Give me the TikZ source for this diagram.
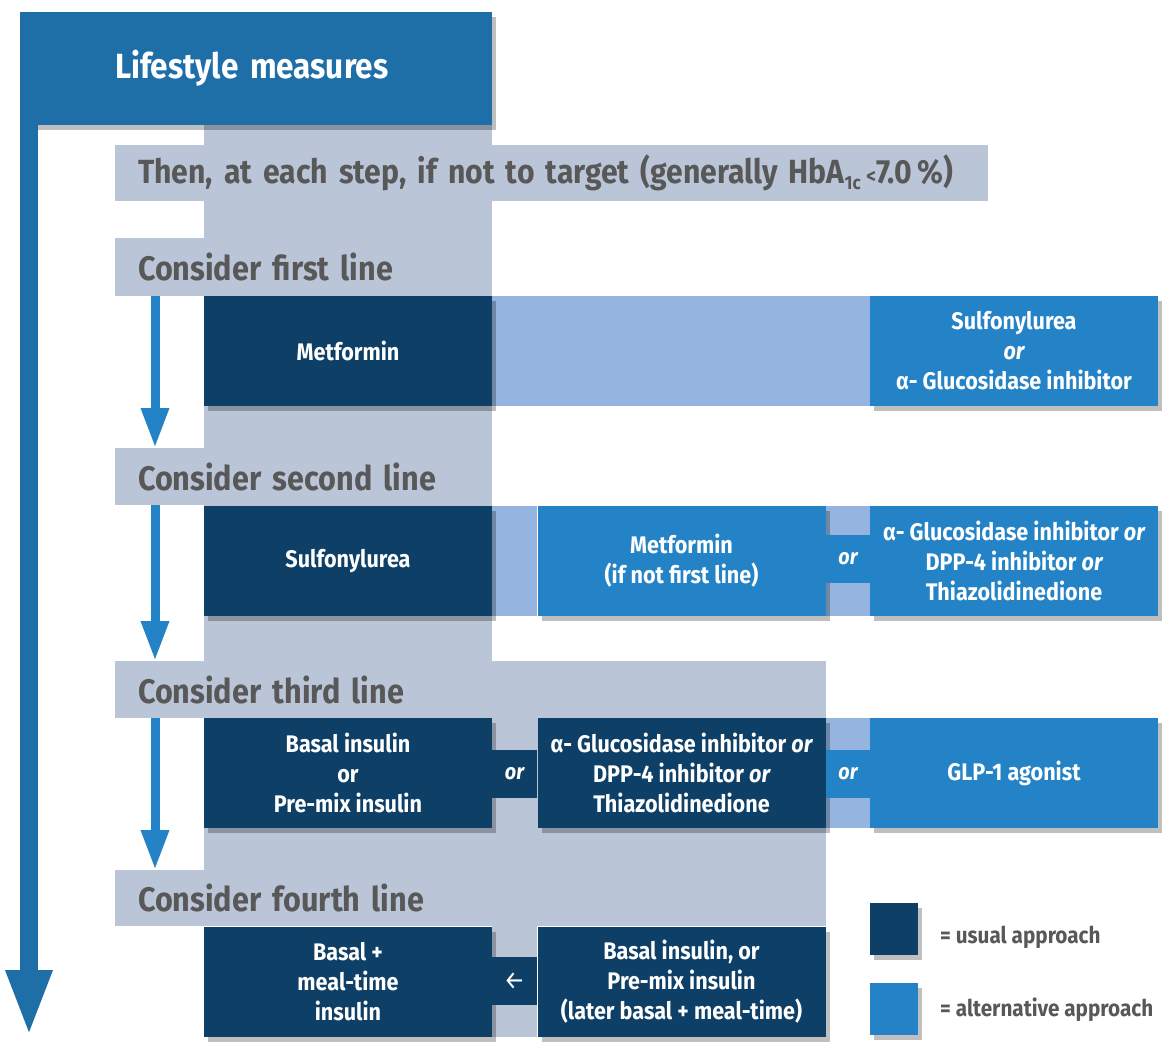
\documentclass[tikz,border=0pt]{standalone}
\usepackage{fontspec}
\setmainfont{Fira Sans}[FakeStretch=0.90]
\usetikzlibrary{arrows.meta,shadows}
\definecolor{topblue}{HTML}{1E6EA8}
\definecolor{band}{HTML}{BAC5D8}
\definecolor{usual}{HTML}{0E3F66}
\definecolor{alt}{HTML}{2383C6}
\definecolor{lightband}{HTML}{95B5E0}
\definecolor{graytext}{HTML}{585858}
\begin{document}
\begin{tikzpicture}[x=1pt,y=-1pt,
  shade/.style={drop shadow={shadow xshift=4pt,shadow yshift=-5pt,opacity=0.25,fill=black}},
  box/.style={inner sep=0pt,outer sep=0pt,align=center,text=white,
    font=\fontsize{24}{30}\selectfont\bfseries,minimum height=110pt,minimum width=288pt,shade},
  usualbox/.style={box,fill=usual},
  altbox/.style={box,fill=alt},
  ortab/.style={inner sep=0pt,outer sep=0pt,minimum width=45pt,minimum height=48pt,
    text=white,font=\fontsize{22}{26}\selectfont\bfseries\itshape},
  header/.style={anchor=north west,fill=band,inner xsep=23pt,inner ysep=0pt,outer sep=0pt,
    align=left,text=graytext,font=\fontsize{34}{40}\selectfont\bfseries},
  legtext/.style={anchor=west,inner sep=0pt,text=graytext,font=\fontsize{23}{26}\selectfont\bfseries},
  smallarr/.style={draw=alt,line width=9pt,-{Triangle[width=26pt,length=40pt]}},
  bigarr/.style={draw=topblue,line width=18pt,-{Triangle[width=42pt,length=67pt]}}
]
\useasboundingbox[fill=white] (0,0) rectangle (1167,1051);

% background bands
\fill[band] (204,125) rectangle (492,661);
\fill[band] (204,718) rectangle (826,870);
\fill[band] (492,926) rectangle (537,1037);

% lifestyle box
\node[anchor=north west,fill=topblue,minimum width=472pt,minimum height=113pt,inner sep=0pt,outer sep=0pt,
  text width=472pt,align=left,text=white,font=\fontsize{35}{40}\selectfont\bfseries,shade] (life) at (20,12)
  {\hspace*{95pt}Lifestyle measures};

% headers
\node[header,minimum height=56pt,text width=827pt,font=\fontsize{33.5}{38}\selectfont\bfseries] (then) at (115,145)
  {\mbox{Then, at each step, if not to target (generally HbA\raisebox{-6pt}{\fontsize{19}{19}\selectfont 1c}\,{\fontsize{21}{21}\selectfont<}7.0\,\%)}};
\node[header,minimum height=58pt,text width=331pt] (c1) at (115,238) {Consider first line};
\node[header,minimum height=57pt,text width=331pt] (c2) at (115,448) {Consider second line};
\node[header,minimum height=57pt,text width=665pt] (c3) at (115,661) {Consider third line};
\node[header,minimum height=56pt,text width=665pt] (c4) at (115,870) {Consider fourth line};

% row 1
\fill[lightband] (492,296) rectangle (870,406);
\node[usualbox] (met1) at (348,351) {Metformin};
\node[altbox] (sulf1) at (1014,351) {Sulfonylurea\\{\itshape or}\\α- Glucosidase inhibitor};

% row 2
\fill[lightband] (492,506) rectangle (537,616);
\fill[lightband] (826,506) rectangle (870,616);
\node[usualbox] (sulf2) at (348,561) {Sulfonylurea};
\node[altbox] (met2) at (681.5,561) {Metformin\\(if not first line)};
\node[ortab,fill=alt] (or2) at (848,559) {or};
\node[altbox] (alpha2) at (1014,561) {α- Glucosidase inhibitor {\itshape or}\\DPP-4 inhibitor {\itshape or}\\Thiazolidinedione};

% row 3
\fill[lightband] (826,718) rectangle (870,828);
\node[usualbox] (basal3) at (348,773) {Basal insulin\\or\\Pre-mix insulin};
\node[ortab,fill=usual] (or3a) at (514.5,774) {or};
\node[usualbox] (alpha3) at (681.5,773) {α- Glucosidase inhibitor {\itshape or}\\DPP-4 inhibitor {\itshape or}\\Thiazolidinedione};
\node[ortab,fill=alt] (or3b) at (848,774) {or};
\node[altbox] (glp) at (1014,773) {GLP-1 agonist};

% row 4
\node[usualbox] (bmt) at (348,981.5) {Basal +\\meal-time\\insulin};
\node[ortab,fill=usual,font=\fontsize{26}{28}\selectfont] (arr4) at (514.5,981) {←};
\node[usualbox] (bi4) at (681.5,981.5) {Basal insulin, or\\Pre-mix insulin\\(later basal + meal-time)};

% small arrows
\draw[smallarr] ([xshift=40pt]c1.south west) -- ([xshift=40pt]c2.north west);
\draw[smallarr] ([xshift=40pt]c2.south west) -- ([xshift=40pt]c3.north west);
\draw[smallarr] ([xshift=40pt]c3.south west) -- ([xshift=40pt]c4.north west);

% big arrow
\coordinate (bigend) at (29,1037);
\draw[bigarr] ([xshift=9pt]life.south west) -- (bigend);

% legend
\node[fill=usual,minimum width=48pt,minimum height=52pt,inner sep=0pt,shade] (legu) at (894,929) {};
\node[fill=alt,minimum width=48pt,minimum height=52pt,inner sep=0pt,shade] (lega) at (894,1009) {};
\node[legtext] (legut) at (940,937) {= usual approach};
\node[legtext] (legat) at (940,1010) {= alternative approach};
\end{tikzpicture}
\end{document}
